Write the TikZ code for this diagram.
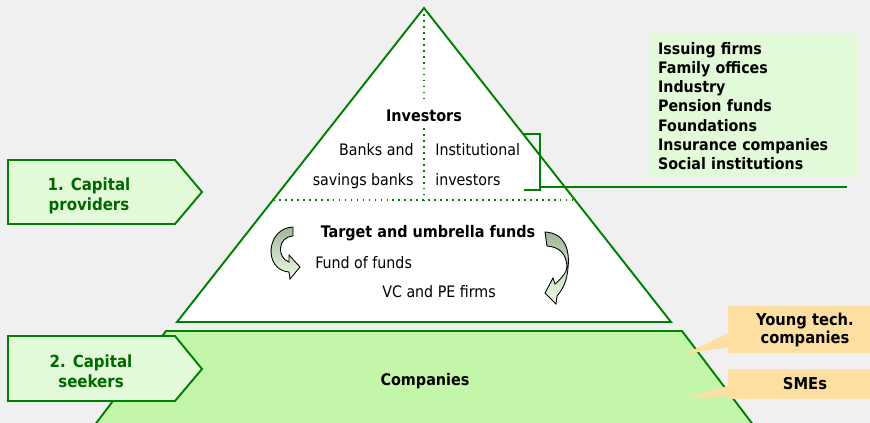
\documentclass[tikz,border=0pt]{standalone}
\usepackage{fontspec}
\setmainfont{DejaVu Sans Condensed}[BoldFont={DejaVu Sans Condensed Bold}]
\usetikzlibrary{positioning}
\definecolor{bggray}{HTML}{F0F0F0}
\definecolor{dkgreen}{HTML}{008000}
\definecolor{txtgreen}{HTML}{006800}
\definecolor{palegreen}{HTML}{E3FAD8}
\definecolor{midgreen}{HTML}{C4F6A9}
\definecolor{peach}{HTML}{FDDFA2}
\definecolor{arrowtop}{HTML}{A3B69A}
\definecolor{arrowbot}{HTML}{EDFCE5}

\begin{document}
\begin{tikzpicture}[x=0.02cm,y=-0.02cm,
  pyr/.style={draw=dkgreen,line width=1.1pt},
  dots/.style={dkgreen,line width=1pt,dash pattern=on 1pt off 2.4pt},
  lbl/.style={font=\fontsize{9}{11}\selectfont,inner sep=0pt},
  heading/.style={font=\fontsize{9.1}{10}\selectfont\bfseries,inner sep=0pt},
  tierbox/.style={draw=dkgreen,line width=1.1pt,fill=palegreen},
  tiertext/.style={font=\fontsize{9.5}{11.4}\selectfont\bfseries,text=txtgreen,align=center,inner sep=0pt},
  tagtext/.style={font=\fontsize{9.3}{10.4}\selectfont\bfseries,align=center,inner sep=0pt},
  turn/.style={draw=black,line width=0.5pt,top color=arrowtop,bottom color=arrowbot}]
  \fill[bggray] (0,0) rectangle (870,423);
  \useasboundingbox (0,0) rectangle (870,423);
  \clip (0,0) rectangle (870,423);

  % companies
  \draw[pyr,fill=midgreen] (166,331) -- (682,331) -- (757,430) -- (91,430) -- cycle;
  \node[heading,anchor=base] (companies) at (425,385) {Companies};

  % pyramid
  \coordinate (apex) at (424,8);
  \coordinate (baseL) at (177,322);
  \coordinate (baseR) at (671,322);
  \draw[pyr,fill=white] (apex) -- (baseR) -- (baseL) -- cycle;
  \draw[dots] (273,200) -- (575,200);
  \draw[dots] (apex) -- (424,98);
  \draw[dots] (424,128) -- (424,200);

  \node[heading,anchor=base] (investors) at (424,121) {Investors};
  \node[lbl,anchor=base east] (banks) at (414,155) {Banks and};
  \node[lbl,anchor=base east] (savings) at (414,185) {savings banks};
  \node[lbl,anchor=base west] (inst) at (435,155) {Institutional};
  \node[lbl,anchor=base west] (instinv) at (435,185) {investors};
  \node[heading,anchor=base] (target) at (428,237) {Target and umbrella funds};
  \node[lbl,anchor=base west] (fof) at (315,268) {Fund of funds};
  \node[lbl,anchor=base west] (vcpe) at (382,297) {VC and PE firms};

  % turning arrows
  \draw[turn] (293,227) .. controls (266,228) and (263,270) .. (289,272) -- (290,279)
    -- (300,267) -- (289,255) -- (289,262) .. controls (277,258) and (277,237) .. (293,236) -- cycle;
  \draw[turn] (545,232) .. controls (565,233) and (570,250) .. (568,268)
    .. controls (567,282) and (562,290) .. (557,296) -- (556,304) -- (545,293) -- (553,278) -- (555,284)
    .. controls (562,278) and (567,272) .. (567,266) .. controls (566,254) and (560,247) .. (547,246) -- cycle;

  % institutional investors
  \draw[dkgreen,line width=1.1pt] (524,134) -- (540,134) -- (540,190) -- (524,190);
  \coordinate (brk) at (540,187);
  \coordinate (lineend) at (847,187);
  \draw[dkgreen,line width=1.1pt] (brk) -- (lineend);
  \node[anchor=north west,fill=palegreen,inner xsep=5pt,inner ysep=4pt,text width=108pt,
    minimum height=81.6pt,align=left,font=\fontsize{9}{10.9}\selectfont\bfseries] (funders) at (649,34)
    {Issuing firms\\Family offices\\Industry\\Pension funds\\Foundations\\Insurance companies\\Social institutions};

  % tiers
  \draw[tierbox] (8,160) -- (175,160) -- (202,192) -- (175,224) -- (8,224) -- cycle;
  \node[tiertext] (providers) at (89,196) {1. Capital\\providers};
  \draw[tierbox] (8,336) -- (175,336) -- (202,369) -- (175,401) -- (8,401) -- cycle;
  \node[tiertext] (seekers) at (91,371) {2. Capital\\seekers};

  % callouts
  \fill[peach] (728,306) rectangle (875,353);
  \fill[peach] (728,333) -- (685,354) -- (728,347) -- cycle;
  \node[tagtext] (young) at (805,330) {Young tech.\\companies};
  \fill[peach] (728,369) rectangle (875,399);
  \fill[peach] (728,386) -- (685,398) -- (728,396) -- cycle;
  \node[tagtext,anchor=base] (smes) at (805,389) {SMEs};
\end{tikzpicture}
\end{document}
